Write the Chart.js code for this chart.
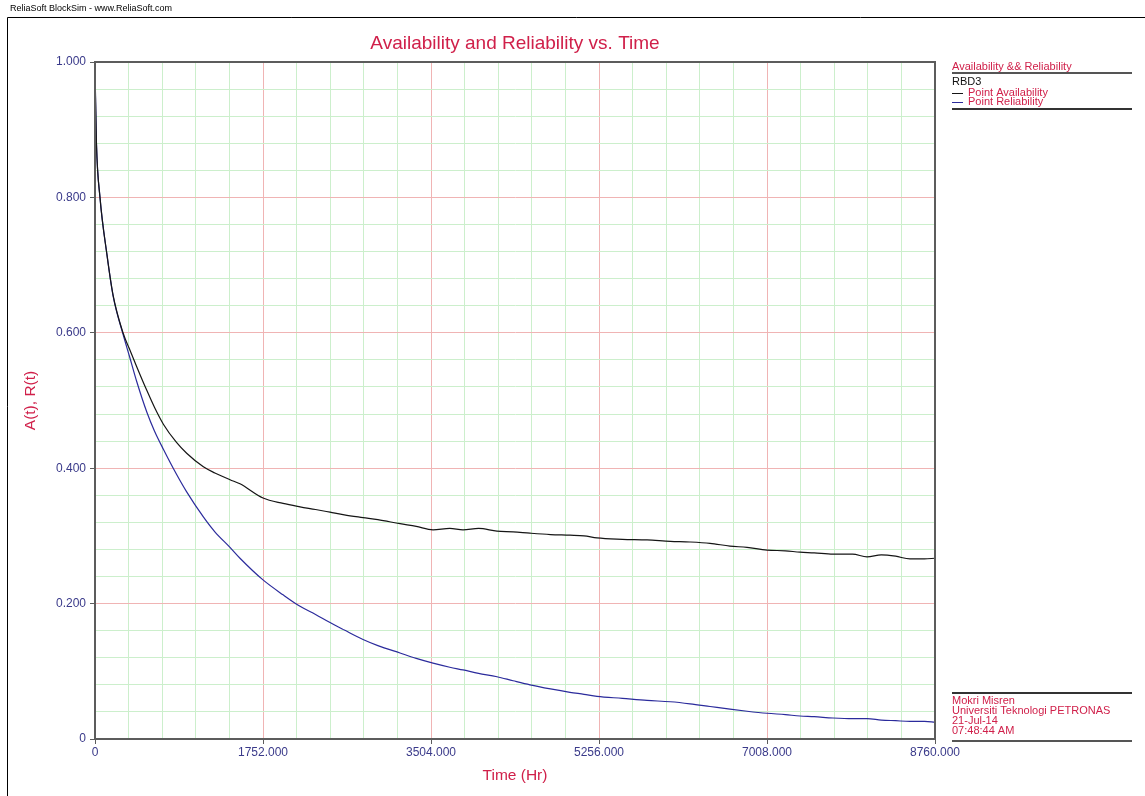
<!DOCTYPE html>
<html>
<head>
<meta charset="utf-8">
<script src="https://cdn.jsdelivr.net/npm/chart.js@4.4.1/dist/chart.umd.min.js"></script>
<style>
html,body{margin:0;padding:0;background:#fff;overflow:hidden;}
#wrap{position:absolute;left:0;top:0;width:1145px;height:796px;}
</style>
</head>
<body>
<div id="wrap"><canvas id="c" width="1145" height="796"></canvas></div>
<script>
// ---- data ----
const timeHr = [0, 5, 15, 52, 125, 188, 292, 360, 435, 540, 620, 713, 850, 956, 1130, 1250, 1408, 1512, 1752, 1961, 2138, 2300, 2451, 2600, 2795, 2950, 3181, 3350, 3525, 3700, 3838, 4000, 4192, 4360, 4536, 4750, 4953, 5100, 5235, 5500, 5757, 6000, 6205, 6414, 6622, 6800, 7008, 7200, 7352, 7500, 7696, 7900, 8051, 8200, 8350, 8499, 8650, 8760];
const pointAvailability = [1.000, 0.950, 0.880, 0.800, 0.715, 0.656, 0.600, 0.576, 0.550, 0.515, 0.490, 0.465, 0.438, 0.422, 0.402, 0.393, 0.383, 0.377, 0.356, 0.348, 0.343, 0.339, 0.335, 0.331, 0.327, 0.324, 0.318, 0.314, 0.309, 0.311, 0.309, 0.311, 0.307, 0.306, 0.304, 0.302, 0.301, 0.300, 0.297, 0.295, 0.294, 0.292, 0.291, 0.289, 0.285, 0.283, 0.279, 0.278, 0.276, 0.275, 0.273, 0.273, 0.269, 0.272, 0.270, 0.266, 0.266, 0.267];
const pointReliability = [1.000, 0.950, 0.880, 0.800, 0.715, 0.655, 0.598, 0.565, 0.528, 0.483, 0.455, 0.428, 0.391, 0.365, 0.328, 0.306, 0.283, 0.267, 0.235, 0.213, 0.196, 0.184, 0.172, 0.161, 0.147, 0.138, 0.127, 0.119, 0.112, 0.106, 0.102, 0.097, 0.092, 0.086, 0.080, 0.074, 0.069, 0.066, 0.063, 0.060, 0.057, 0.055, 0.052, 0.048, 0.044, 0.041, 0.038, 0.036, 0.034, 0.033, 0.031, 0.030, 0.030, 0.028, 0.027, 0.026, 0.026, 0.025];

const xTickValues = [0, 1752, 3504, 5256, 7008, 8760];
const xTickLabels = ['0', '1752.000', '3504.000', '5256.000', '7008.000', '8760.000'];
const yTickValues = [0, 0.2, 0.4, 0.6, 0.8, 1.0];
const yTickLabels = ['0', '0.200', '0.400', '0.600', '0.800', '1.000'];
const minorDivisions = 5;

const seriesNames = ['Point Availability', 'Point Reliability'];
const legendTitle = 'Availability && Reliability';
const legendGroup = 'RBD3';
const chartTitle = 'Availability and Reliability vs. Time';
const xTitle = 'Time (Hr)';
const yTitle = 'A(t), R(t)';
const headerText = 'ReliaSoft BlockSim - www.ReliaSoft.com';
const infoLines = ['Mokri Misren', 'Universiti Teknologi PETRONAS', '21-Jul-14', '07:48:44 AM'];

// ---- styles ----
const CRIMSON = '#d0204a';
const NAVY = '#3a3a8a';
const FONT = '"Liberation Sans", Arial, sans-serif';
const MAJOR = '#f0b4b4';
const MINOR = '#ccefcc';
const lineColors = ['#151515', '#2b2b9c'];

function withMinor(majors) {
  const out = [];
  for (let i = 0; i < majors.length - 1; i++) {
    const a = majors[i], b = majors[i + 1];
    for (let k = 0; k < minorDivisions; k++) out.push({value: a + (b - a) * k / minorDivisions});
  }
  out.push({value: majors[majors.length - 1]});
  return out;
}
function majorIndex(majors, v) {
  const tol = (majors[majors.length - 1] - majors[0]) * 1e-6;
  return majors.findIndex(m => Math.abs(m - v) < tol);
}

const pts = (ys) => timeHr.map((t, i) => ({x: t, y: ys[i]}));

const decor = {
  id: 'decor',
  afterDraw(chart) {
    const {ctx, chartArea: a} = chart;
    ctx.save();
    // plot frame
    ctx.strokeStyle = '#5c5c5c';
    ctx.lineWidth = 2;
    ctx.strokeRect(a.left, a.top, a.right - a.left, a.bottom - a.top);

    // outer window frame + header
    ctx.strokeStyle = '#000';
    ctx.lineWidth = 1;
    ctx.beginPath();
    ctx.moveTo(7.5, 796); ctx.lineTo(7.5, 17.5); ctx.lineTo(1145, 17.5);
    ctx.stroke();
    ctx.fillStyle = '#000';
    ctx.font = '9px ' + FONT;
    ctx.textBaseline = 'middle';
    ctx.textAlign = 'left';
    ctx.fillText(headerText, 10, 9);

    // title
    ctx.fillStyle = CRIMSON;
    ctx.font = '19px ' + FONT;
    ctx.textAlign = 'center';
    ctx.fillText(chartTitle, (a.left + a.right) / 2, 44);

    // axis titles
    ctx.font = '15.5px ' + FONT;
    ctx.fillText(xTitle, (a.left + a.right) / 2, 776);
    ctx.save();
    ctx.translate(31, (a.top + a.bottom) / 2);
    ctx.rotate(-Math.PI / 2);
    ctx.fillText(yTitle, 0, 0);
    ctx.restore();

    // legend
    const lx = 952, lr = 1132;
    ctx.textAlign = 'left';
    ctx.font = '11px ' + FONT;
    ctx.fillStyle = CRIMSON;
    ctx.fillText(legendTitle, lx, 67);
    ctx.strokeStyle = '#555';
    ctx.lineWidth = 2;
    ctx.beginPath(); ctx.moveTo(lx, 73); ctx.lineTo(lr, 73); ctx.stroke();
    ctx.fillStyle = '#111';
    ctx.fillText(legendGroup, lx, 82);
    const ly = [92.5, 101.5];
    seriesNames.forEach((n, i) => {
      ctx.strokeStyle = lineColors[i];
      ctx.lineWidth = 1;
      ctx.beginPath(); ctx.moveTo(lx, Math.round(ly[i]) + 0.5); ctx.lineTo(lx + 11, Math.round(ly[i]) + 0.5); ctx.stroke();
      ctx.fillStyle = CRIMSON;
      ctx.fillText(n, lx + 16, ly[i]);
    });
    ctx.strokeStyle = '#333';
    ctx.lineWidth = 2;
    ctx.beginPath(); ctx.moveTo(lx, 109); ctx.lineTo(lr, 109); ctx.stroke();

    // info box
    ctx.strokeStyle = '#333';
    ctx.beginPath(); ctx.moveTo(lx, 693); ctx.lineTo(lr, 693); ctx.stroke();
    ctx.fillStyle = CRIMSON;
    infoLines.forEach((s, i) => ctx.fillText(s, lx, 701 + i * 10));
    ctx.strokeStyle = '#555';
    ctx.beginPath(); ctx.moveTo(lx, 741); ctx.lineTo(lr, 741); ctx.stroke();
    ctx.restore();
  }
};

new Chart(document.getElementById('c'), {
  type: 'line',
  data: {
    datasets: [
      {label: seriesNames[0], data: pts(pointAvailability), borderColor: lineColors[0], borderWidth: 1.2, pointRadius: 0, cubicInterpolationMode: 'monotone', fill: false, order: 1},
      {label: seriesNames[1], data: pts(pointReliability), borderColor: lineColors[1], borderWidth: 1.2, pointRadius: 0, cubicInterpolationMode: 'monotone', fill: false, order: 2}
    ]
  },
  options: {
    responsive: false,
    animation: false,
    devicePixelRatio: 1,
    layout: {padding: {left: 0, top: 62, right: 210, bottom: 0}},
    plugins: {legend: {display: false}, tooltip: {enabled: false}, title: {display: false}},
    scales: {
      x: {
        type: 'linear', min: xTickValues[0], max: xTickValues[xTickValues.length - 1],
        afterBuildTicks: (s) => { s.ticks = withMinor(xTickValues); },
        afterFit: (s) => { s.height = 57; },
        grid: {
          color: (c) => majorIndex(xTickValues, c.tick.value) >= 0 ? MAJOR : MINOR,
          lineWidth: 1, drawTicks: true, tickLength: 5,
          tickColor: (c) => majorIndex(xTickValues, c.tick.value) >= 0 ? '#5c5c5c' : 'rgba(0,0,0,0)'
        },
        border: {display: true, color: '#5c5c5c', width: 2},
        ticks: {
          autoSkip: false, maxRotation: 0, padding: 1, color: NAVY,
          font: {family: FONT, size: 12},
          callback: (v) => { const i = majorIndex(xTickValues, v); return i >= 0 ? xTickLabels[i] : ''; }
        }
      },
      y: {
        type: 'linear', min: yTickValues[0], max: yTickValues[yTickValues.length - 1],
        afterBuildTicks: (s) => { s.ticks = withMinor(yTickValues); },
        afterFit: (s) => { s.width = 95; },
        grid: {
          color: (c) => majorIndex(yTickValues, c.tick.value) >= 0 ? MAJOR : MINOR,
          lineWidth: 1, drawTicks: true, tickLength: 5,
          tickColor: (c) => majorIndex(yTickValues, c.tick.value) >= 0 ? '#5c5c5c' : 'rgba(0,0,0,0)'
        },
        border: {display: true, color: '#5c5c5c', width: 2},
        ticks: {
          autoSkip: false, padding: 4, color: NAVY,
          font: {family: FONT, size: 12},
          callback: (v) => { const i = majorIndex(yTickValues, v); return i >= 0 ? yTickLabels[i] : ''; }
        }
      }
    }
  },
  plugins: [decor]
});
</script>
</body>
</html>
